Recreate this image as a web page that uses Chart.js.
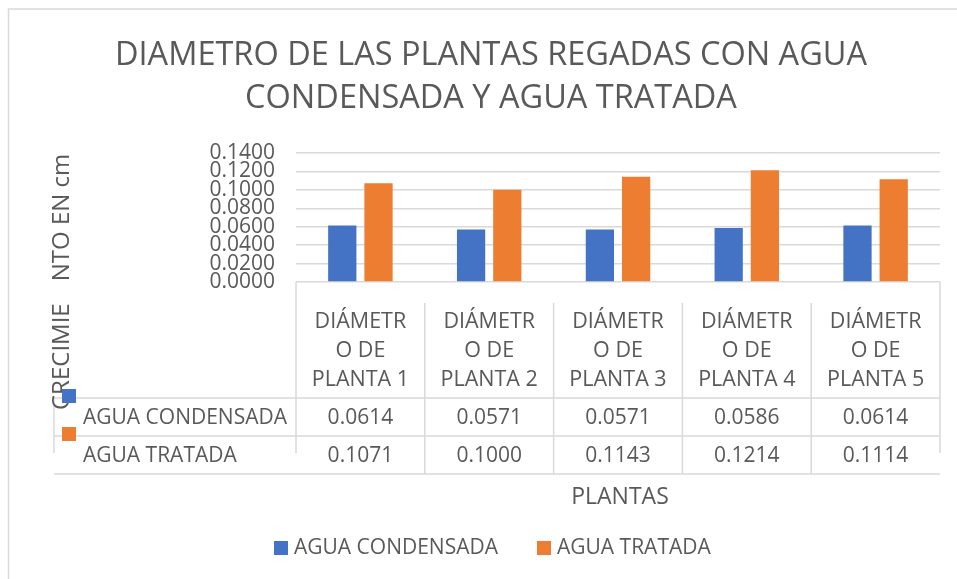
<!DOCTYPE html>
<html>
<head>
<meta charset="utf-8">
<script src="https://cdn.jsdelivr.net/npm/chart.js@4/dist/chart.umd.min.js"></script>
<style>
  html, body { margin: 0; padding: 0; background: #fff; }
  canvas { display: block; }
</style>
</head>
<body>
<canvas id="chart" width="957" height="579"></canvas>
<script>
// datos
const plantas = [
  ["DIÁMETR", "O DE", "PLANTA 1"],
  ["DIÁMETR", "O DE", "PLANTA 2"],
  ["DIÁMETR", "O DE", "PLANTA 3"],
  ["DIÁMETR", "O DE", "PLANTA 4"],
  ["DIÁMETR", "O DE", "PLANTA 5"]
];
const aguaCondensada = [0.0614, 0.0571, 0.0571, 0.0586, 0.0614];
const aguaTratada = [0.1071, 0.1000, 0.1143, 0.1214, 0.1114];
const seriesNames = ["AGUA CONDENSADA", "AGUA TRATADA"];
const titleLines = ["DIAMETRO DE LAS PLANTAS REGADAS CON AGUA", "CONDENSADA Y AGUA TRATADA"];
const yTitleParts = ["CRECIMIE", "NTO EN cm"];
const xTitle = "PLANTAS";
const yMax = 0.14;
const yStep = 0.02;

const colors = ["#4472C4", "#ED7D31"];
const textColor = "#595959";
const lineColor = "#D9D9D9";
const FONT = "'Open Sans', 'Noto Sans', sans-serif";

// fondo, titulos, tabla de datos y leyenda
const excelExtras = {
  id: "excelExtras",
  beforeDraw(chart) {
    const ctx = chart.ctx;
    ctx.save();
    ctx.fillStyle = "#fff";
    ctx.fillRect(0, 0, chart.width, chart.height);
    ctx.strokeStyle = lineColor;
    ctx.lineWidth = 1.5;
    ctx.strokeRect(8.5, 9, chart.width + 20, chart.height + 20);
    ctx.restore();
  },
  afterDraw(chart) {
    const ctx = chart.ctx;
    const area = chart.chartArea;
    const x = chart.scales.x;
    const n = plantas.length;
    const colW = (area.right - area.left) / n;
    ctx.save();

    // titulo
    ctx.fillStyle = textColor;
    ctx.textAlign = "center";
    ctx.textBaseline = "middle";
    ctx.font = "32.5px " + FONT;
    titleLines.forEach((t, i) => ctx.fillText(t, 491, 56 + i * 43));

    // lineas de la tabla
    ctx.strokeStyle = lineColor;
    ctx.lineWidth = 1.5;
    const rowTop = 398, rowMid = 436, rowBot = 474, tableLeft = 54;
    const line = (x1, y1, x2, y2) => {
      ctx.beginPath(); ctx.moveTo(x1, y1); ctx.lineTo(x2, y2); ctx.stroke();
    };
    line(area.left, area.bottom, area.left, 453);
    line(area.right, area.bottom, area.right, 453);
    for (let k = 1; k < n; k++) {
      const bx = area.left + k * colW;
      line(bx, 303, bx, rowBot);
    }
    [rowTop, rowMid, rowBot].forEach(y => line(tableLeft, y, area.right, y));
    line(tableLeft, rowTop, tableLeft, 453);

    // encabezados de categoria
    ctx.fillStyle = textColor;
    ctx.font = "21.5px " + FONT;
    plantas.forEach((lab, i) => {
      const cx = x.getPixelForValue(i);
      lab.forEach((l, j) => ctx.fillText(l, cx, 322 + j * 29));
    });

    // valores
    ctx.font = "21px " + FONT;
    const rows = [aguaCondensada, aguaTratada];
    const rowY = [418, 456];
    rows.forEach((vals, r) => {
      vals.forEach((v, i) => ctx.fillText(v.toFixed(4), x.getPixelForValue(i), rowY[r]));
    });

    // titulo eje y (rotado)
    ctx.save();
    ctx.translate(62, 410);
    ctx.rotate(-Math.PI / 2);
    ctx.textAlign = "left";
    ctx.font = "24px " + FONT;
    ctx.fillText(yTitleParts[0], 0, 0);
    const w0 = ctx.measureText(yTitleParts[0]).width;
    ctx.fillText(yTitleParts[1], w0 + 22, 0);
    ctx.restore();

    // nombres de serie con clave
    ctx.textAlign = "left";
    ctx.font = "21px " + FONT;
    seriesNames.forEach((s, r) => {
      ctx.fillStyle = colors[r];
      ctx.fillRect(62, 389 + r * 38, 14, 14);
      ctx.fillStyle = textColor;
      ctx.fillText(s, 83, rowY[r]);
    });

    // titulo eje x
    ctx.textAlign = "center";
    ctx.font = "23px " + FONT;
    ctx.fillText(xTitle, 620, 497);

    // leyenda
    ctx.textAlign = "left";
    ctx.font = "21px " + FONT;
    const legX = [274, 537];
    seriesNames.forEach((s, r) => {
      ctx.fillStyle = colors[r];
      ctx.fillRect(legX[r], 541, 14, 14);
      ctx.fillStyle = textColor;
      ctx.fillText(s, legX[r] + 20, 548);
    });

    ctx.restore();
  }
};

new Chart(document.getElementById("chart"), {
  type: "bar",
  data: {
    labels: plantas,
    datasets: [
      { label: seriesNames[0], data: aguaCondensada, backgroundColor: colors[0] },
      { label: seriesNames[1], data: aguaTratada, backgroundColor: colors[1] }
    ]
  },
  options: {
    responsive: false,
    animation: false,
    devicePixelRatio: 1,
    layout: { padding: { left: 0, top: 153, right: 17, bottom: 297 } },
    datasets: { bar: { categoryPercentage: 0.5625, barPercentage: 0.78 } },
    plugins: { legend: { display: false }, title: { display: false }, tooltip: { enabled: false } },
    scales: {
      x: { display: false },
      y: {
        min: 0,
        max: yMax,
        border: { display: false },
        grid: { color: lineColor, lineWidth: 1.5, drawTicks: false },
        ticks: {
          stepSize: yStep,
          autoSkip: false,
          padding: 21,
          color: textColor,
          font: { family: FONT, size: 21 },
          callback: v => Number(v).toFixed(4)
        },
        afterFit(scale) { scale.width = 296; }
      }
    }
  },
  plugins: [excelExtras]
});
</script>
</body>
</html>
